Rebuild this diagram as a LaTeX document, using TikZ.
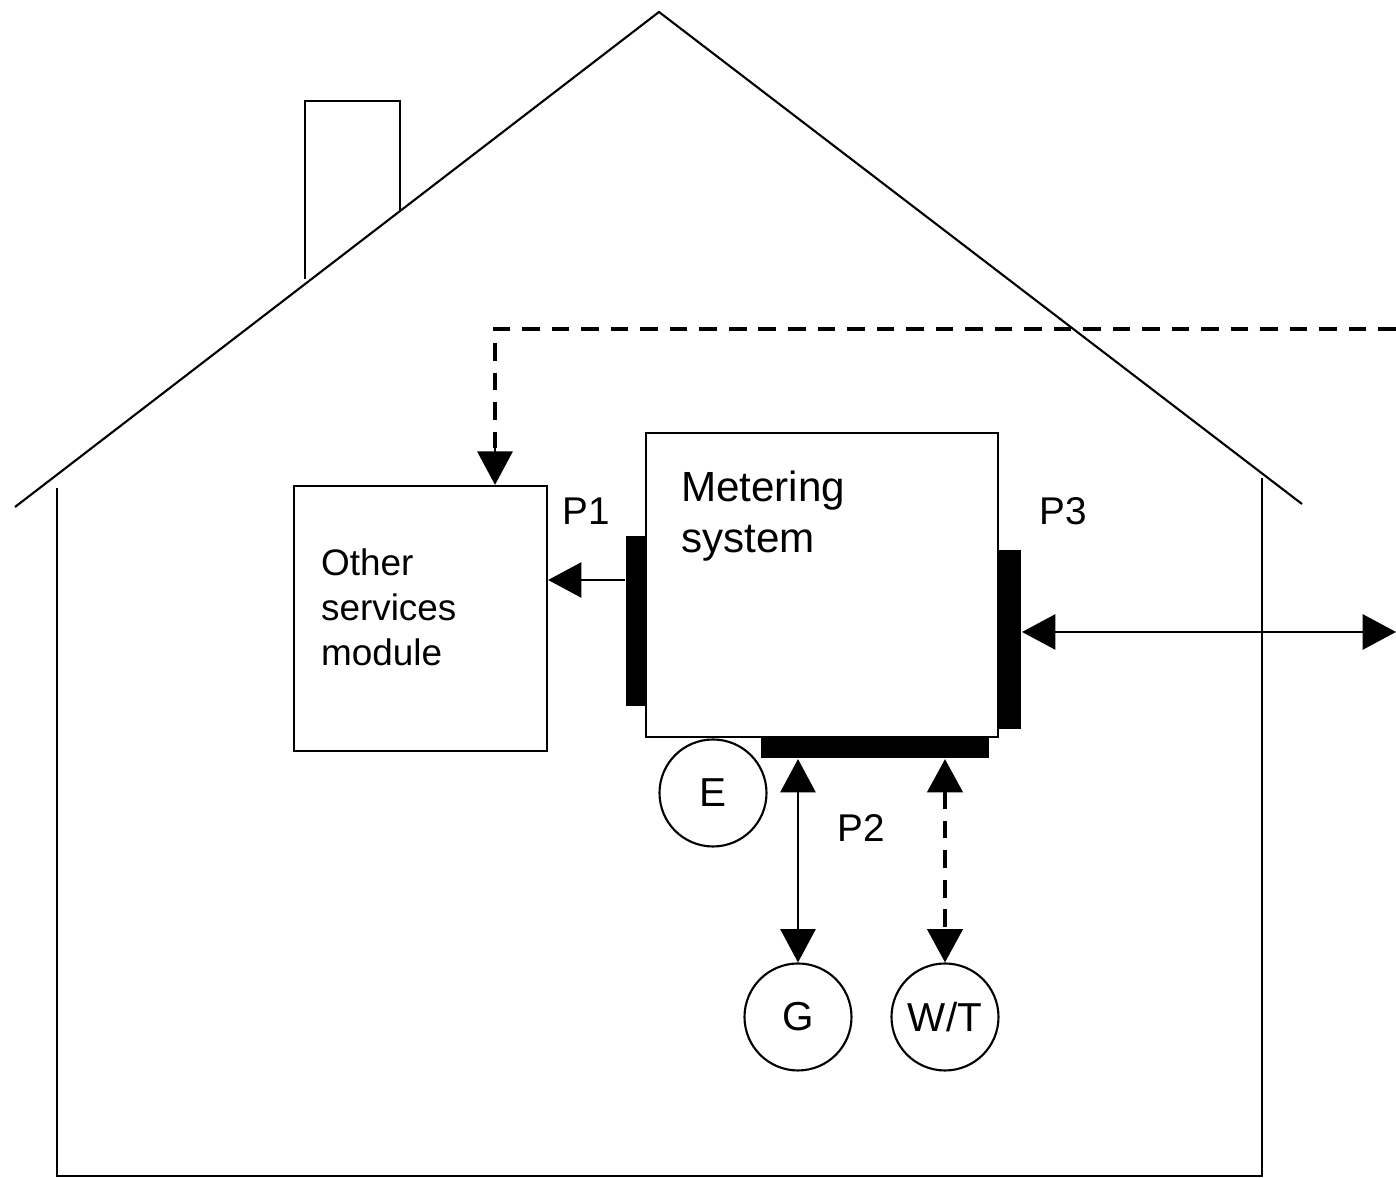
\documentclass[tikz,border=0pt]{standalone}
\usepackage{fontspec}
\setmainfont{Liberation Sans}
\usepackage{tikz}
\usetikzlibrary{arrows.meta}
\usetikzlibrary{positioning}

\begin{document}
\begin{tikzpicture}[line width=.6pt,
  box/.style={draw,inner sep=0,anchor=south west},
  port/.style={fill=black,inner sep=0},
  meter/.style={draw,circle,minimum size=1.07cm,inner sep=0,font=\fontsize{11.5}{13}\selectfont},
  plabel/.style={inner sep=0,font=\fontsize{11}{13}\selectfont},
  arr/.style={line width=.7pt,-{Triangle[length=9.5pt,width=10pt]}},
  darr/.style={line width=.7pt,{Triangle[length=9.5pt,width=10pt]}-{Triangle[length=9.5pt,width=10pt]}},
  feed/.style={line width=1.2pt,dash pattern=on 5pt off 3.4pt}]
\useasboundingbox (0,0) rectangle (13.96,11.78);
\draw (.15,6.71)--(6.59,11.66)--(13.02,6.74);
\draw (.57,6.9)--(.57,.02)--(12.62,.02)--(12.62,7);
\draw (3.05,8.99)--(3.05,10.77)--(4,10.77)--(4,9.67);
\node (osm) [box,minimum width=2.53cm,minimum height=2.65cm] at (2.93,4.26) {};
\node (sys) [box,minimum width=3.52cm,minimum height=3.04cm] at (6.45,4.4) {};
\node [anchor=north west,inner sep=0,align=left,font=\fontsize{10.5}{12.8}\selectfont] at (3.2,6.3) {Other\\services\\module};
\node [anchor=north west,inner sep=0,align=left,font=\fontsize{12}{14.5}\selectfont] at (6.8,7.08) {Metering\\system};
\node (p1bar) [port,minimum width=.19cm,minimum height=1.7cm] at (6.355,5.57) {};
\node (p3bar) [port,minimum width=.24cm,minimum height=1.79cm] at (10.09,5.385) {};
\node (p2bar) [port,minimum width=2.28cm,minimum height=.2cm] at (8.75,4.3) {};
\node [plabel] at (5.86,6.67) {P1};
\node [plabel] at (8.61,3.5) {P2};
\node [plabel] at (10.63,6.67) {P3};
\node (E) [meter] at (7.13,3.85) {E};
\node (G) [meter] at (7.98,1.61) {G};
\node (WT) [meter] at (9.45,1.61) {W/T};
\coordinate (out) at (13.96,5.46);
\coordinate (in) at (13.96,8.49);
\coordinate (bend) at (4.95,8.49);
\draw[arr] (p1bar.west |- 0,5.98)--(osm.east |- 0,5.98);
\draw[darr] (p3bar.east |- out)--(out);
\draw[darr] (G.north |- p2bar.south)--(G.north);
\draw[darr,feed] (WT.north |- p2bar.south)--(WT.north);
\draw[feed] (in)--(bend)--(bend |- 0,7.3);
\draw[arr] (bend |- 0,7.4)--(bend |- osm.north);
\end{tikzpicture}
\end{document}
